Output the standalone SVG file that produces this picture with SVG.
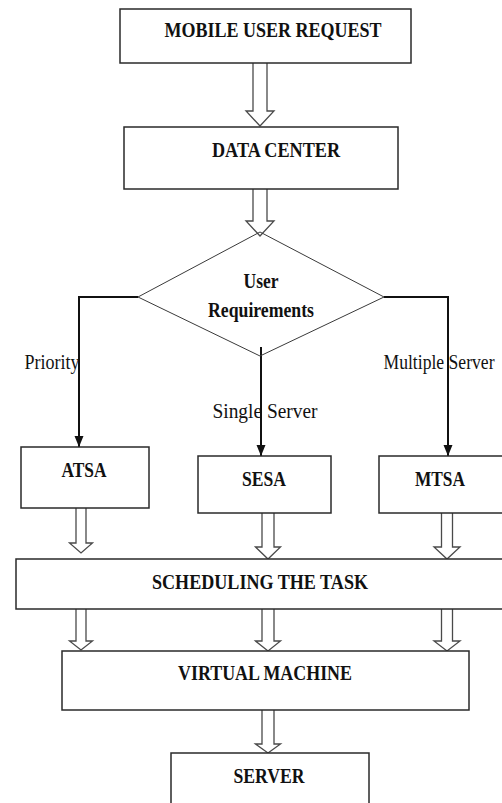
<svg xmlns="http://www.w3.org/2000/svg" width="502" height="803" viewBox="0 0 502 803">
  <style>
    .box { fill: #fff; stroke: #2a2a2a; stroke-width: 1.5; }
    .dia { fill: none; stroke: #3a3a3a; stroke-width: 1; }
    .blk { fill: none; stroke: #4a4a4a; stroke-width: 1.3; stroke-linejoin: miter; }
    .con { fill: none; stroke: #111; stroke-width: 2; }
    .t { font-family: "Liberation Serif", "Times New Roman", serif; font-weight: bold; font-size: 21px; fill: #111; text-anchor: middle; }
    .l { font-family: "Liberation Serif", "Times New Roman", serif; font-size: 20px; fill: #111; text-anchor: middle; }
  </style>
  <defs>
    <marker id="head" markerUnits="userSpaceOnUse" markerWidth="12" markerHeight="12" viewBox="0 0 12 12" refX="11" refY="6" orient="auto">
      <path d="M0,1.5 L11,6 L0,10.5 Z" fill="#111"/>
    </marker>
  </defs>

  <!-- connectors: hollow block arrows and decision branches -->
  <g id="connectors">
    <path class="blk" d="M253,63 V111 H246 L260,126 L274,111 H267 V63"/>
    <path class="blk" d="M253,189 V221 H246 L260,236 L274,221 H267 V189"/>

    <polyline class="con" points="138,297 79,297 79,447" marker-end="url(#head)"/>
    <polyline class="con" points="261,347 261,456" marker-end="url(#head)"/>
    <polyline class="con" points="384,297 448,297 448,456" marker-end="url(#head)"/>

    <path class="blk" d="M76,508 V543 H69.5 L81,553 L92.5,543 H86 V508"/>
    <path class="blk" d="M262,513 V547 H255.5 L268,559 L280.5,547 H274 V513"/>
    <path class="blk" d="M441.5,513 V547 H434 L447,559 L460,547 H452.5 V513"/>

    <path class="blk" d="M76,609 V641 H69.5 L81,650 L92.5,641 H86 V609"/>
    <path class="blk" d="M262,609 V641 H255.5 L268,651 L280.5,641 H274 V609"/>
    <path class="blk" d="M441.5,609 V641 H434 L447,651 L460,641 H452.5 V609"/>

    <path class="blk" d="M262,710 V744 H255.5 L268,753 L280.5,744 H274 V710"/>

    <text class="l" x="52" y="369" textLength="55" lengthAdjust="spacingAndGlyphs">Priority</text>
    <text class="l" x="265" y="418" textLength="105" lengthAdjust="spacingAndGlyphs">Single Server</text>
    <text class="l" x="439" y="369" textLength="111" lengthAdjust="spacingAndGlyphs">Multiple Server</text>
  </g>

  <g id="mobile-user-request">
    <rect class="box" x="120" y="9" width="291" height="54"/>
    <text class="t" x="273" y="37" textLength="217" lengthAdjust="spacingAndGlyphs">MOBILE USER REQUEST</text>
  </g>

  <g id="data-center">
    <rect class="box" x="124" y="127" width="274" height="62"/>
    <text class="t" x="276" y="157" textLength="128" lengthAdjust="spacingAndGlyphs">DATA CENTER</text>
  </g>

  <g id="user-requirements">
    <polygon class="dia" points="260,232 384,297 260,356 138,297"/>
    <text class="t" x="261" y="288" textLength="35" lengthAdjust="spacingAndGlyphs">User</text>
    <text class="t" x="261" y="317" textLength="106" lengthAdjust="spacingAndGlyphs">Requirements</text>
  </g>

  <g id="atsa">
    <rect class="box" x="21" y="447" width="128" height="61"/>
    <text class="t" x="84" y="477" textLength="45" lengthAdjust="spacingAndGlyphs">ATSA</text>
  </g>

  <g id="sesa">
    <rect class="box" x="198" y="456" width="133" height="57"/>
    <text class="t" x="264" y="486" textLength="44" lengthAdjust="spacingAndGlyphs">SESA</text>
  </g>

  <g id="mtsa">
    <rect class="box" x="379" y="456" width="126" height="57"/>
    <text class="t" x="440" y="486" textLength="50" lengthAdjust="spacingAndGlyphs">MTSA</text>
  </g>

  <g id="scheduling">
    <rect class="box" x="16" y="559" width="490" height="50"/>
    <text class="t" x="260" y="589" textLength="216" lengthAdjust="spacingAndGlyphs">SCHEDULING THE TASK</text>
  </g>

  <g id="virtual-machine">
    <rect class="box" x="62" y="651" width="407" height="59"/>
    <text class="t" x="265" y="680" textLength="174" lengthAdjust="spacingAndGlyphs">VIRTUAL MACHINE</text>
  </g>

  <g id="server">
    <rect class="box" x="171" y="753" width="198" height="55"/>
    <text class="t" x="269" y="783" textLength="71" lengthAdjust="spacingAndGlyphs">SERVER</text>
  </g>
</svg>
